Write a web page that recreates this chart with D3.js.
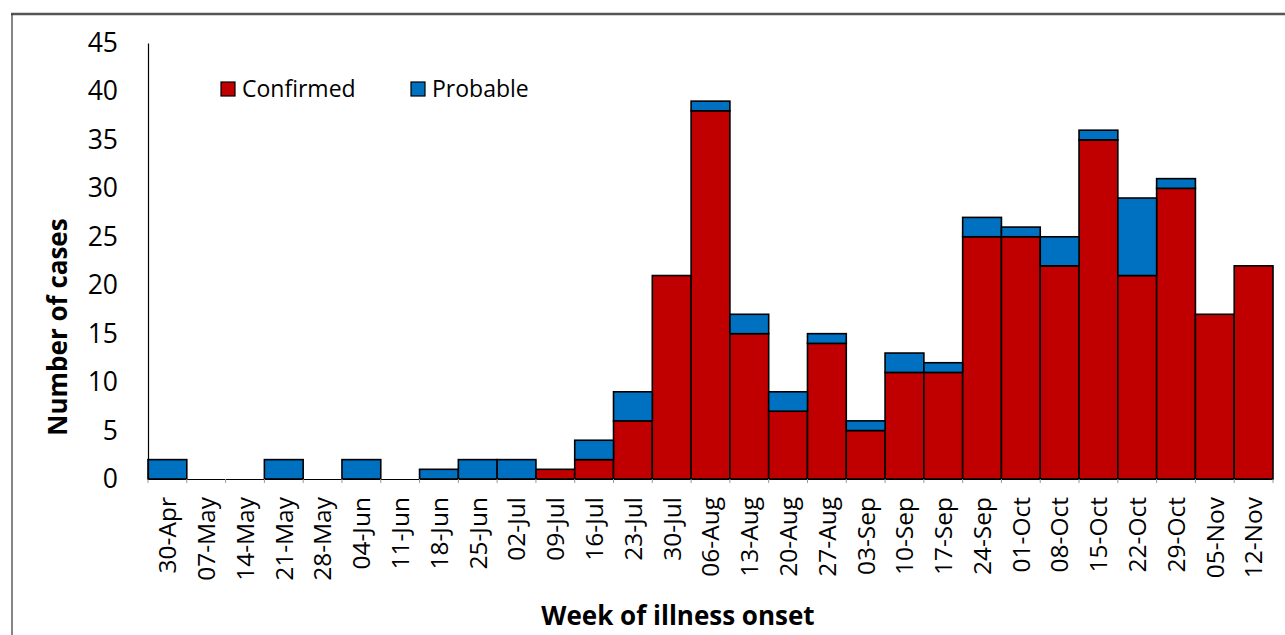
<!DOCTYPE html>
<html><head><meta charset="utf-8">
<script src="https://cdn.jsdelivr.net/npm/d3@7"></script>
<style>
html,body{margin:0;padding:0;background:#fff;}
svg{display:block;}
text{font-family:"Open Sans","Noto Sans",sans-serif;}
</style></head>
<body>
<script>
const categories = ["30-Apr","07-May","14-May","21-May","28-May","04-Jun","11-Jun","18-Jun","25-Jun","02-Jul","09-Jul","16-Jul","23-Jul","30-Jul","06-Aug","13-Aug","20-Aug","27-Aug","03-Sep","10-Sep","17-Sep","24-Sep","01-Oct","08-Oct","15-Oct","22-Oct","29-Oct","05-Nov","12-Nov"];
const confirmed = [0,0,0,0,0,0,0,0,0,0,1,2,6,21,38,15,7,14,5,11,11,25,25,22,35,21,30,17,22];
const probable  = [2,0,0,2,0,2,0,1,2,2,0,2,3,0,1,2,2,1,1,2,1,2,1,3,1,8,1,0,0];
const yTicks = [0,5,10,15,20,25,30,35,40,45];
const seriesNames = ["Confirmed","Probable"];
const seriesColors = ["#C00000","#0070C0"];

const W = 1285, H = 635;
const m = {left:148, right:12, top:43, bottom:156};
const svg = d3.select("body").append("svg").attr("width",W).attr("height",H);

// frame
svg.append("line").attr("x1",11).attr("x2",W).attr("y1",14).attr("y2",14).attr("stroke","#555").attr("stroke-width",2.5);
svg.append("line").attr("x1",12).attr("x2",12).attr("y1",14).attr("y2",H).attr("stroke","#333").attr("stroke-width",1.2);

const x = d3.scaleBand().domain(categories).range([m.left, W-m.right]).padding(0);
const y = d3.scaleLinear().domain([0,45]).range([H-m.bottom, m.top]);

const rows = categories.map((c,i)=>({cat:c, Confirmed:confirmed[i], Probable:probable[i]}));
const stacked = d3.stack().keys(seriesNames)(rows);

const g = svg.append("g");
stacked.forEach((s,si)=>{
  g.selectAll(null).data(s.filter(d=>d[1]-d[0]>0)).enter().append("rect")
    .attr("x",d=>x(d.data.cat))
    .attr("width",x.bandwidth())
    .attr("y",d=>y(d[1]))
    .attr("height",d=>y(d[0])-y(d[1]))
    .attr("fill",seriesColors[si])
    .attr("stroke","#000").attr("stroke-width",1.6);
});

// x axis
const xAxis = svg.append("g").attr("transform",`translate(0,${y(0)})`)
  .call(d3.axisBottom(x).tickSize(0).tickPadding(0));
xAxis.select(".domain").attr("stroke","#000").attr("stroke-width",1.2);
xAxis.selectAll(".tick text")
  .attr("font-size",24.5).attr("fill","#000")
  .attr("transform","rotate(-90)")
  .attr("text-anchor","end")
  .attr("dy","0.36em")
  .attr("x",-18).attr("y",0);
// boundary ticks
svg.append("g").selectAll("line").data(categories.concat(["__end"])).enter().append("line")
  .attr("x1",(d,i)=>m.left + i*x.bandwidth()).attr("x2",(d,i)=>m.left + i*x.bandwidth())
  .attr("y1",y(0)).attr("y2",y(0)+4).attr("stroke","#999").attr("stroke-width",1);

// y axis
const yAxis = svg.append("g").attr("transform",`translate(${m.left},0)`)
  .call(d3.axisLeft(y).tickValues(yTicks).tickSize(0).tickPadding(30));
yAxis.select(".domain").attr("stroke","#000").attr("stroke-width",1.2);
yAxis.selectAll(".tick text").attr("font-size",26.5).attr("fill","#000");

// axis titles
svg.append("text").attr("x",678).attr("y",625)
  .attr("text-anchor","middle").attr("font-weight","bold").attr("font-size",26).text("Week of illness onset");
svg.append("text").attr("transform",`translate(67,327) rotate(-90)`)
  .attr("text-anchor","middle").attr("font-weight","bold").attr("font-size",26).text("Number of cases");

// legend
const legX = [221, 411];
seriesNames.forEach((n,i)=>{
  svg.append("rect").attr("x",legX[i]).attr("y",82).attr("width",14).attr("height",14)
    .attr("fill",seriesColors[i]).attr("stroke","#000").attr("stroke-width",1.2);
  svg.append("text").attr("x",legX[i]+21).attr("y",89).attr("dy","0.36em")
    .attr("font-size",23).text(n);
});
</script>
</body></html>
